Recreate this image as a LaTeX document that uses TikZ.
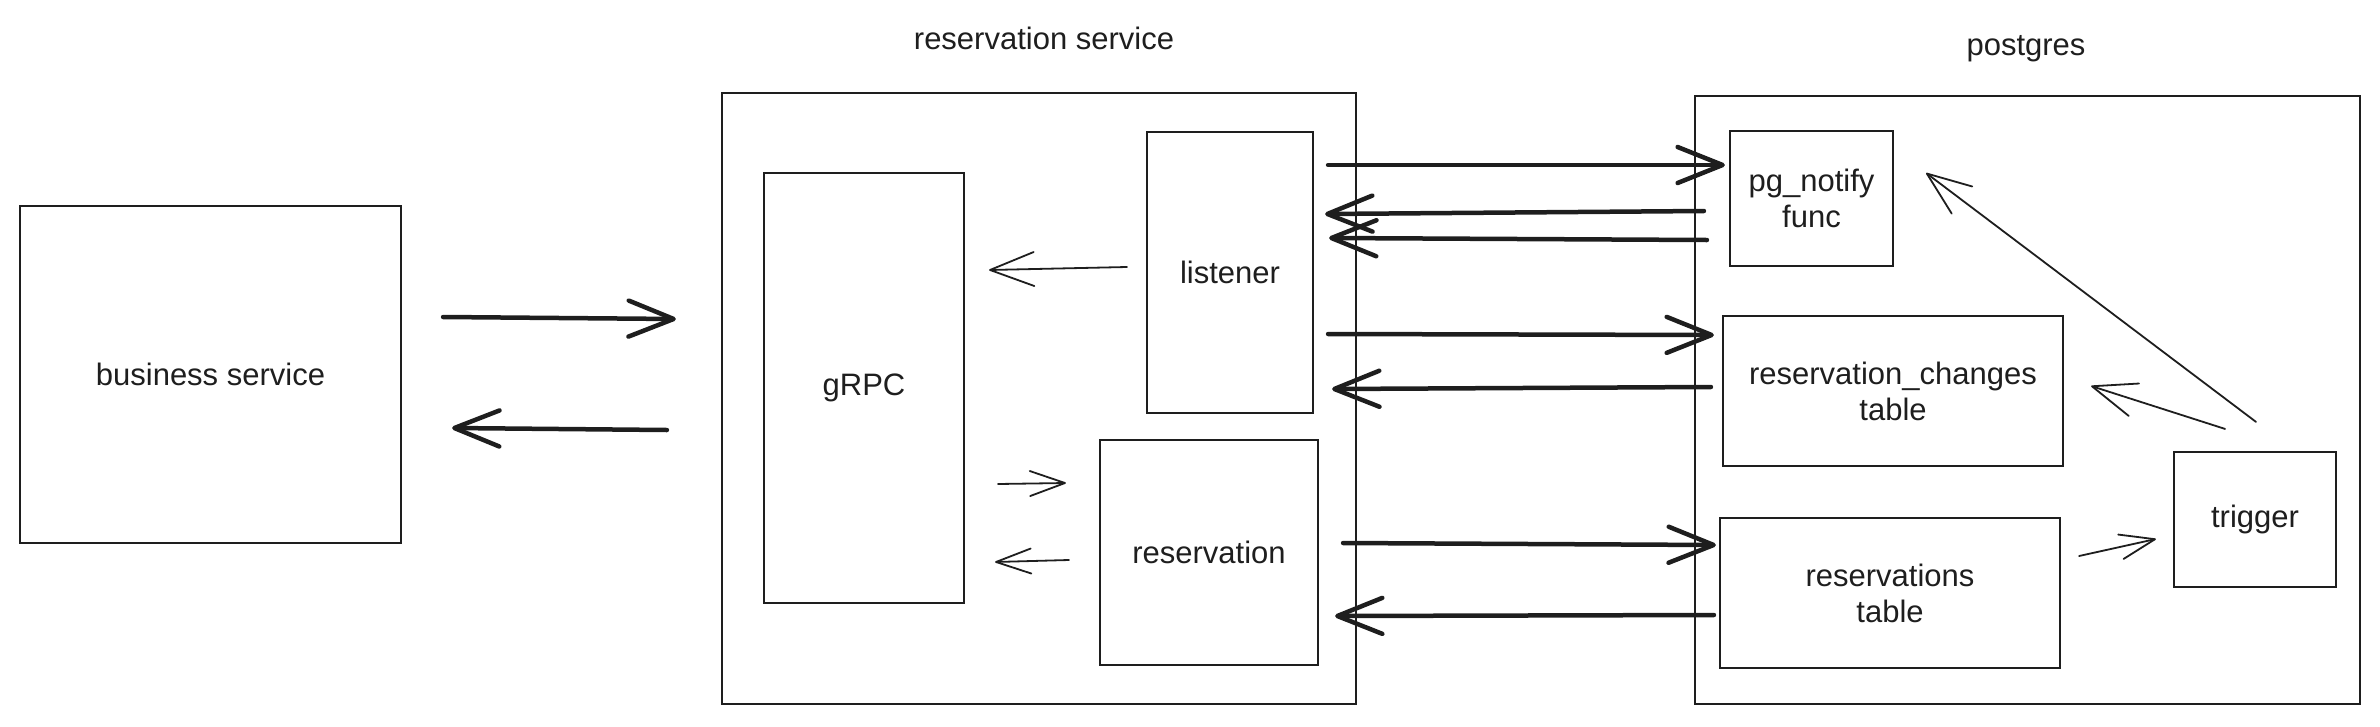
\documentclass[tikz,border=0pt]{standalone}
\usepackage{fontspec}
\setmainfont{Liberation Sans}
\usetikzlibrary{arrows.meta,calc}
\definecolor{ink}{HTML}{1E1E1E}
\tikzset{
  box/.style={draw=ink, line width=2.2pt, rectangle, inner sep=0pt, align=center, text=ink,
              font=\fontsize{31}{36}\selectfont},
  lbl/.style={text=ink, font=\fontsize{31}{36}\selectfont, inner sep=0pt},
  bigarrow/.style={draw=ink, line width=4.5pt, line cap=round,
                   -{Straight Barb[length=45pt,width=36pt,round]}},
  smallarrow/.style={draw=ink, line width=1.8pt, line cap=round,
                   -{Straight Barb[length=44pt,width=34pt,round]}},
  tinyarrow/.style={draw=ink, line width=1.8pt, line cap=round,
                   -{Straight Barb[length=35pt,width=25pt,round]}},
}
\begin{document}
\begin{tikzpicture}[x=1pt,y=-1pt]
\useasboundingbox (0,0) rectangle (2380,726);
% outer containers
\node[box, minimum width=634, minimum height=611] (rs) at (1039,398.5) {};
\node[box, minimum width=665, minimum height=608] (pg) at (2027.5,400) {};
\node[lbl] (rslabel) at (1044,38) {reservation service};
\node[lbl] (pglabel) at (2026,49) {postgres};
% boxes
\node[box, minimum width=381, minimum height=337] (biz) at (210.5,374.5) {business service};
\node[box, minimum width=200, minimum height=430] (grpc) at (864,388) {gRPC};
\node[box, minimum width=166, minimum height=281] (listener) at (1230,272.5) {listener};
\node[box, minimum width=218, minimum height=225] (reservation) at (1209,552.5) {reservation};
\node[box, minimum width=163, minimum height=135] (pgn) at (1811.5,198.5) {pg\_notify\\func};
\node[box, minimum width=340, minimum height=150] (changes) at (1893,391) {reservation\_changes\\table};
\node[box, minimum width=340, minimum height=150] (rtable) at (1890,593) {reservations\\table};
\node[box, minimum width=162, minimum height=135] (trigger) at (2255,519.5) {trigger};
% business <-> reservation service
\draw[bigarrow] ($(biz.east)+(41,-57.5)$) -- ($(rs.west)+(-45,-79.5)$);
\draw[bigarrow] ($(rs.west)+(-54,31.5)$) -- ($(biz.east)+(50,53.5)$);
% inside reservation service
\draw[smallarrow] ($(listener.west)+(-19,-5.5)$) -- ($(grpc.east)+(24,-118)$);
\draw[tinyarrow] ($(grpc.east)+(33,96)$) -- ($(reservation.west)+(-33,-69.5)$);
\draw[tinyarrow] ($(reservation.west)+(-30,7.5)$) -- ($(grpc.east)+(30,174)$);
% service <-> postgres
\draw[bigarrow] ($(listener.east)+(14,-107.5)$) -- ($(pgn.west)+(-4,-33.5)$);
\draw[bigarrow] ($(pgn.west)+(-25,12.5)$) -- ($(listener.east)+(11,-58.5)$);
\draw[bigarrow] ($(pgn.west)+(-22,41.5)$) -- ($(listener.east)+(15,-34.5)$);
\draw[bigarrow] ($(listener.east)+(14,61.5)$) -- ($(changes.west)+(-8,-56)$);
\draw[bigarrow] ($(changes.west)+(-11,-4)$) -- ($(listener.east)+(18,116.5)$);
\draw[bigarrow] ($(reservation.east)+(24,-9.5)$) -- ($(rtable.west)+(-3,-48)$);
\draw[bigarrow] ($(rtable.west)+(-5,22)$) -- ($(reservation.east)+(16,63.5)$);
% inside postgres
\draw[tinyarrow] ($(rtable.east)+(18,-37)$) -- ($(trigger.west)+(-17,19.5)$);
\draw[smallarrow] ($(trigger.north)+(-30,-22)$) -- ($(changes.east)+(27,-5)$);
\draw[smallarrow] ($(trigger.north)+(1,-29)$) -- ($(pgn.east)+(32,-25.5)$);
\end{tikzpicture}
\end{document}
